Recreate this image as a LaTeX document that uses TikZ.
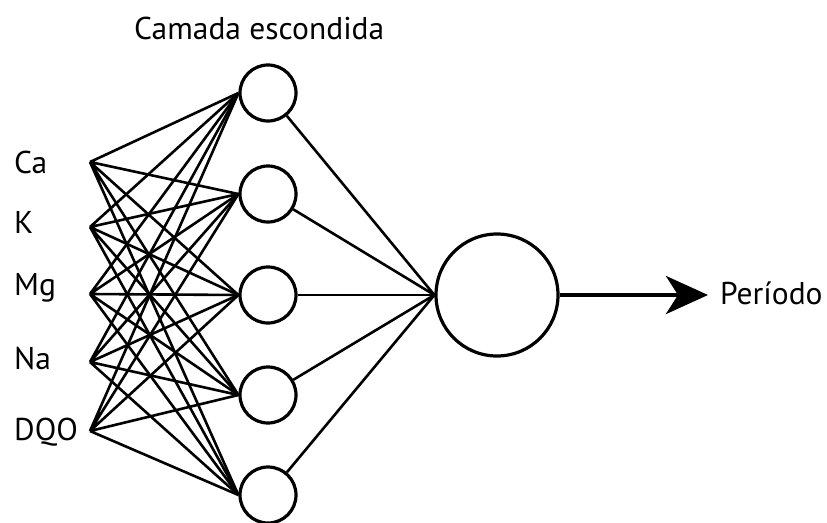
\documentclass[tikz,border=0pt]{standalone}
\usepackage{fontspec}
\setmainfont{PT Sans}
\usetikzlibrary{arrows.meta}

\tikzset{
	neuron/.style={circle, draw, line width=3.2pt, inner sep=0pt, minimum size=56pt},
	outneuron/.style={circle, draw, line width=3.2pt, inner sep=0pt, minimum size=122pt},
	label/.style={anchor=west, inner sep=0pt, font=\fontsize{31.5}{36}\selectfont},
	link/.style={line width=2.6pt}
}

\begin{document}
\begin{tikzpicture}[x=1pt,y=-1pt]
	\useasboundingbox (0,0) rectangle (827,522);

	% entradas
	\node[label] (lca) at (14,162) {Ca};
	\node[label] (lk) at (14,222) {K};
	\node[label] (lmg) at (14,288) {Mg};
	\node[label] (lna) at (14,358) {Na};
	\node[label] (ldqo) at (14,432) {DQO};

	\coordinate (ca) at (90,162);
	\coordinate (k) at (90,227);
	\coordinate (mg) at (90,294);
	\coordinate (na) at (90,362);
	\coordinate (dqo) at (90,431);

	% camada escondida
	\node[label] (title) at (134,28) {Camada escondida};
	\node[neuron] (h1) at (268,93) {};
	\node[neuron] (h2) at (268,194) {};
	\node[neuron] (h3) at (268,295) {};
	\node[neuron] (h4) at (268,395) {};
	\node[neuron] (h5) at (268,495) {};

	% saida
	\node[outneuron] (out) at (497,295) {};
	\coordinate (tip) at (708,295);
	\node[label] (per) at (720,293) {Período};

	\draw[link] (ca) -- (h1.west) (ca) -- (h2.west) (ca) -- (h3.west) (ca) -- (h4.west) (ca) -- (h5.west);
	\draw[link] (k) -- (h1.west) (k) -- (h2.west) (k) -- (h3.west) (k) -- (h4.west) (k) -- (h5.west);
	\draw[link] (mg) -- (h1.west) (mg) -- (h2.west) (mg) -- (h3.west) (mg) -- (h4.west) (mg) -- (h5.west);
	\draw[link] (na) -- (h1.west) (na) -- (h2.west) (na) -- (h3.west) (na) -- (h4.west) (na) -- (h5.west);
	\draw[link] (dqo) -- (h1.west) (dqo) -- (h2.west) (dqo) -- (h3.west) (dqo) -- (h4.west) (dqo) -- (h5.west);

	\draw[link] (h1) -- (out.west);
	\draw[link] (h2) -- (out.west);
	\draw[link] (h3) -- (out.west);
	\draw[link] (h4) -- (out.west);
	\draw[link] (h5) -- (out.west);

	\draw[line width=4.5pt, -{Stealth[length=42pt,width=38pt,inset=12pt]}] (out) -- (tip);

\end{tikzpicture}
\end{document}
